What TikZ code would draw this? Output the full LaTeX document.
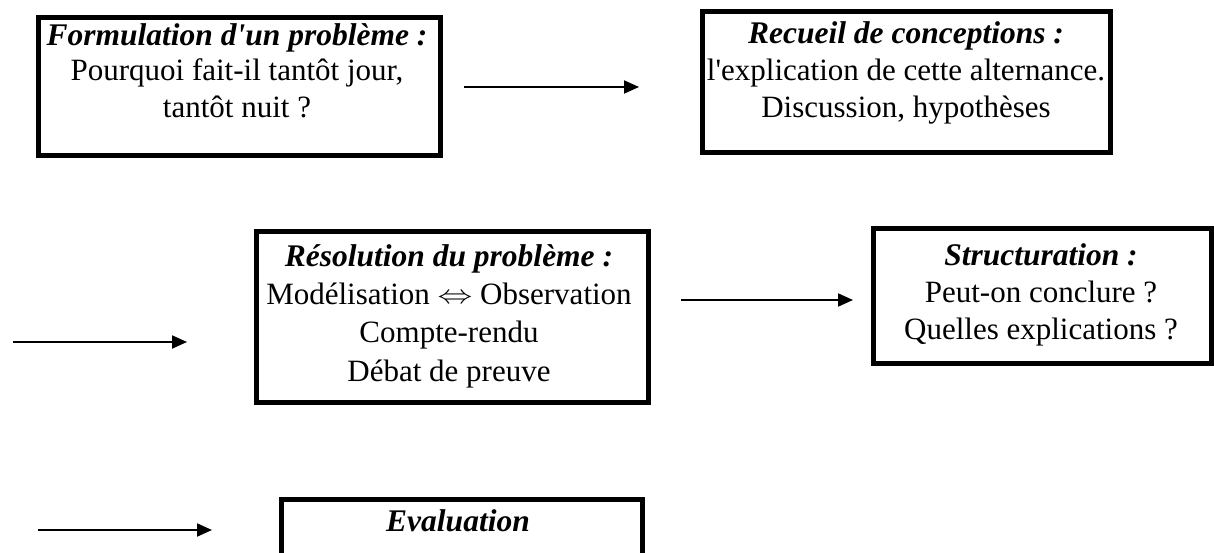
\documentclass[tikz,border=0pt]{standalone}
\usepackage{graphicx}
\usepackage{fontspec}
\setmainfont{Liberation Serif}
\newfontfamily\rawserif{Liberation Serif}
\newcommand{\apos}{{\rawserif'}}
\usetikzlibrary{arrows.meta}
\tikzset{
  box/.style={draw, line width=5pt, inner sep=0pt, anchor=north west},
  txt/.style={anchor=base, inner sep=0pt, font=\fontsize{31}{38}\selectfont},
  head/.style={txt, font=\fontsize{31.5}{38}\selectfont\bfseries\itshape},
  arr/.style={line width=2pt, -{Triangle[length=15pt,width=13pt]}}
}
\begin{document}
\begin{tikzpicture}[x=1pt,y=-1pt]
\useasboundingbox (0,0) rectangle (1214,553);
% boxes
\node[box, minimum width=402pt, minimum height=138pt] (b1) at (36,15) {};
\node[box, minimum width=408pt, minimum height=141pt] (b2) at (700,9) {};
\node[box, minimum width=392pt, minimum height=171pt] (b3) at (254,229) {};
\node[box, minimum width=338pt, minimum height=135pt] (b4) at (871,226) {};
\node[box, minimum width=361pt, minimum height=58pt] (b5) at (279,497) {};
% texts box 1
\node[head] (t1a) at (237,46) {Formulation d\apos un problème :};
\node[txt] (t1b) at (237,81) {Pourquoi fait-il tantôt jour,};
\node[txt] (t1c) at (237,118) {tantôt nuit ?};
% texts box 2
\node[head] (t2a) at (906,44) {Recueil de conceptions :};
\node[txt] (t2b) at (906,81) {l\apos explication de cette alternance.};
\node[txt] (t2c) at (906,118) {Discussion, hypothèses};
% texts box 3
\node[head] (t3a) at (449,266) {Résolution du problème :};
\node[txt] (t3b) at (449,304) {Modélisation \raisebox{1pt}{\scalebox{1.4}[1.05]{$\Leftrightarrow$}} Observation};
\node[txt] (t3c) at (449,342) {Compte-rendu};
\node[txt] (t3d) at (449,381) {Débat de preuve};
% texts box 4
\node[head] (t4a) at (1041,265) {Structuration :};
\node[txt] (t4b) at (1041,302) {Peut-on conclure ?};
\node[txt] (t4c) at (1041,339) {Quelles explications ?};
% text box 5
\node[head] (t5a) at (458,531) {Evaluation};
% arrows
\coordinate (a1s) at (464,87);  \coordinate (a1e) at (639,87);
\coordinate (a2s) at (13,342);  \coordinate (a2e) at (187,342);
\coordinate (a3s) at (681,300); \coordinate (a3e) at (853,300);
\coordinate (a4s) at (38,530);  \coordinate (a4e) at (212,530);
\draw[arr] (a1s) -- (a1e);
\draw[arr] (a2s) -- (a2e);
\draw[arr] (a3s) -- (a3e);
\draw[arr] (a4s) -- (a4e);
\end{tikzpicture}
\end{document}
